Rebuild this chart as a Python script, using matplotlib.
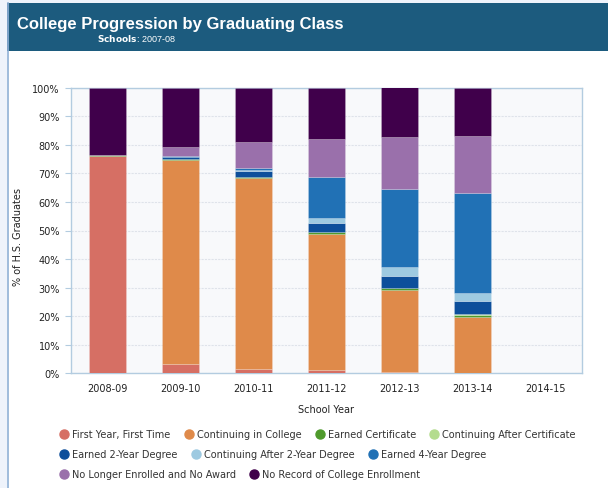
import matplotlib
matplotlib.use("Agg")
import matplotlib.pyplot as plt
from matplotlib.patches import Rectangle
from matplotlib.lines import Line2D
import numpy as np

# categories
years = ["2008-09", "2009-10", "2010-11", "2011-12", "2012-13", "2013-14", "2014-15"]

# series values (% of graduates)
first_year = [76.0, 3.1, 1.6, 1.3, 0.3, 0.2, 0]
continuing = [0, 71.7, 66.7, 47.6, 28.8, 19.6, 0]
certificate = [0.3, 0.3, 0.4, 0.5, 0.7, 0.6, 0]
cont_after_cert = [0, 0, 0, 0, 0, 0.2, 0]
degree_2yr = [0, 0.6, 2.3, 3.2, 4.1, 4.6, 0]
cont_after_2yr = [0, 0.2, 0.3, 1.9, 3.2, 3.0, 0]
degree_4yr = [0, 0.2, 0.5, 14.1, 27.6, 34.8, 0]
no_longer = [0, 3.0, 9.1, 13.5, 18.1, 20.2, 0]
no_record = [23.7, 20.9, 19.1, 17.9, 17.3, 16.7, 0]

labels = ["First Year, First Time", "Continuing in College", "Earned Certificate",
          "Continuing After Certificate", "Earned 2-Year Degree",
          "Continuing After 2-Year Degree", "Earned 4-Year Degree",
          "No Longer Enrolled and No Award", "No Record of College Enrollment"]
series = [first_year, continuing, certificate, cont_after_cert, degree_2yr,
          cont_after_2yr, degree_4yr, no_longer, no_record]
colors = ["#d66f64", "#df8a4a", "#4f9a2c", "#b4dc8e", "#0d4f9b",
          "#9ecae1", "#2171b5", "#9a70ab", "#40004b"]

W, H = 608, 489
fig = plt.figure(figsize=(W / 100, H / 100), dpi=100)
fig.patch.set_facecolor("white")

def px(x, y, w, h):
    # pixel box (top-left origin) -> figure fraction
    return [x / W, 1 - (y + h) / H, w / W, h / H]

# window frame and header band
fig.patches.append(Rectangle((0, 0), 7 / W, 1, transform=fig.transFigure,
                             facecolor="#eef3fb", edgecolor="none", zorder=0))
fig.patches.append(Rectangle((0, 1 - 4 / H), 1, 4 / H, transform=fig.transFigure,
                             facecolor="#eef3fb", edgecolor="none", zorder=0))
fig.add_artist(Line2D([7.5 / W, 7.5 / W], [0, 1 - 4 / H], transform=fig.transFigure,
                      color="#8fb0d6", lw=1.2))
fig.patches.append(Rectangle((7 / W, 1 - 52 / H), 1, 48 / H, transform=fig.transFigure,
                             facecolor="#1c5b7e", edgecolor="none", zorder=1))
fig.text(17 / W, 1 - 29.3 / H, "College Progression by Graduating Class", color="white",
         family="Liberation Sans", fontweight="bold", fontsize=12, va="baseline", ha="left")
fig.text(97 / W, 1 - 41.7 / H, r"$\bf{Schools}$: 2007-08", color="white",
         family="Liberation Sans", fontsize=6.5, va="baseline", ha="left")

# chart
ax = fig.add_axes(px(71, 88.7, 511, 285.6))
ax.set_facecolor("#f8f9fb")
x = np.arange(len(years))
bottom = np.zeros(len(years))
handles = []
for vals, c, lab in zip(series, colors, labels):
    v = np.array(vals, dtype=float)
    ax.bar(x, v, 0.5, bottom=bottom, color=c, edgecolor=(1, 1, 1, 0.25),
           linewidth=0.5, zorder=3)
    bottom += v
    handles.append(Line2D([], [], marker="o", linestyle="none", markersize=6.5,
                          markerfacecolor=c, markeredgecolor=c, label=lab))

ax.set_xlim(-0.5, len(years) - 0.5)
ax.set_ylim(0, 100)
ax.set_xticks(x, years)
ax.set_yticks(np.arange(0, 101, 10), [f"{v}%" for v in range(0, 101, 10)])
ax.yaxis.grid(True, color="#dfe3ea", linestyle=(0, (2, 1)), linewidth=0.8, zorder=0)
for s in ax.spines.values():
    s.set_color("#b3cce0")
    s.set_linewidth(1.0)
ax.tick_params(axis="y", length=4, color="#b3cce0", labelsize=7, labelcolor="#222222", pad=4)
ax.tick_params(axis="x", length=0, labelsize=7, labelcolor="#222222", pad=7)
ax.set_xlabel("School Year", fontsize=7, color="#222222", labelpad=8)
ax.set_ylabel("% of H.S. Graduates", fontsize=7, color="#222222")
ax.yaxis.set_label_coords(-0.094, 0.48)

# legend rows
rows = [handles[0:4], handles[4:7], handles[7:9]]
ys = [435, 455, 475]
for hs, yy in zip(rows, ys):
    leg = fig.legend(handles=hs, ncol=len(hs), loc="center left",
                     bbox_to_anchor=(60 / W, 1 - yy / H), frameon=False,
                     fontsize=7, handlelength=0.8, handletextpad=0.42,
                     columnspacing=1.5, borderaxespad=0, borderpad=0)
    for t in leg.get_texts():
        t.set_color("#333333")

fig.savefig("out.png", dpi=100)
